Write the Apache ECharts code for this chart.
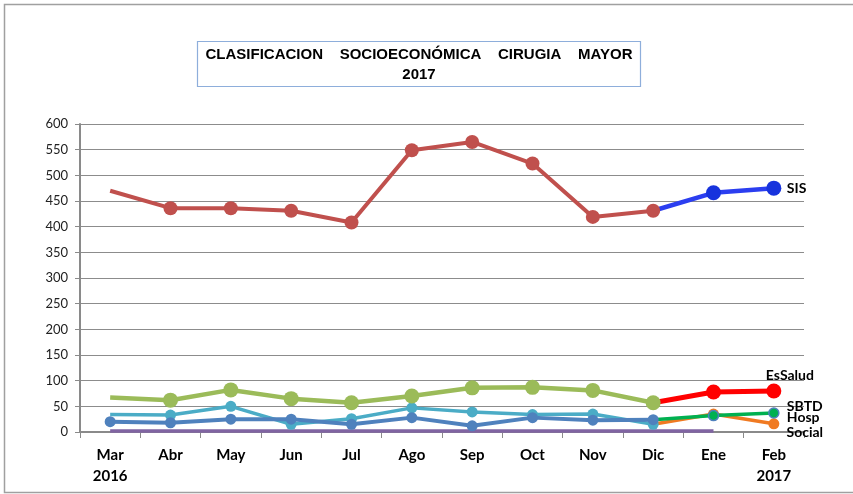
<!DOCTYPE html>
<html>
<head>
<meta charset="utf-8">
<script src="https://cdn.jsdelivr.net/npm/echarts@6/dist/echarts.min.js"></script>
<style>
  html, body { margin: 0; padding: 0; background: #ffffff; }
  #chart { width: 853px; height: 494px; }
</style>
</head>
<body>
<div id="chart"></div>
<script>
// Months on the category axis (second line marks the year)
const months = ['Mar\n2016', 'Abr', 'May', 'Jun', 'Jul', 'Ago', 'Sep', 'Oct', 'Nov', 'Dic', 'Ene', 'Feb\n2017'];
const yTicks = { min: 0, max: 600, step: 50 };

// 2016 tracks (Mar–Dic)
const sis2016      = [470, 436, 436, 431, 408, 549, 565, 523, 419, 431, null, null];
const essalud2016  = [67, 62, 82, 65, 57, 70, 86, 87, 81, 57, null, null];
const sbtd2016     = [34, 33, 50, 15, 26, 47, 39, 34, 35, 15, null, null];
const hosp2016     = [20, 18, 25, 25, 15, 28, 12, 28, 23, 24, null, null];
const social2016   = [2, 2, 2, 2, 2, 2, 2, 2, 2, 2, 2, null];

// 2017 tracks, starting from the December value
const sis2017      = [null, null, null, null, null, null, null, null, null, 431, 466, 475];
const essalud2017  = [null, null, null, null, null, null, null, null, null, 57, 78, 80];
const sbtd2017     = [null, null, null, null, null, null, null, null, null, 24, 32, 37];
const hosp2017     = [null, null, null, null, null, null, null, null, null, 15, 35, 16];

// Build point list, hiding the marker on selected indexes
function points(values, noMarkerAt) {
  return values.map((v, i) => (noMarkerAt.includes(i) ? { value: v, symbol: 'none' } : v));
}

function lineSeries(name, values, color, width, markerSize, noMarkerAt, extra) {
  return Object.assign({
    name: name,
    type: 'line',
    data: points(values, noMarkerAt),
    symbol: 'circle',
    symbolSize: markerSize,
    showSymbol: true,
    connectNulls: false,
    lineStyle: { color: color, width: width },
    itemStyle: { color: color },
    emphasis: { disabled: true }
  }, extra || {});
}

const labelFont = { fontFamily: 'Lato', fontWeight: 'bold', color: '#000' };

const chart = echarts.init(document.getElementById('chart'), null, { renderer: 'canvas' });

chart.setOption({
  animation: false,
  backgroundColor: '#ffffff',
  grid: { left: 80, right: 49, top: 124, bottom: 62 },
  xAxis: {
    type: 'category',
    data: months,
    boundaryGap: true,
    axisLine: { lineStyle: { color: '#8a8a8a', width: 2 } },
    axisTick: { show: true, length: 6, lineStyle: { color: '#8a8a8a', width: 1 } },
    axisLabel: {
      interval: 0,
      margin: 13,
      fontFamily: 'Lato',
      fontWeight: 'bold',
      fontSize: 15,
      lineHeight: 21,
      color: '#000'
    },
    splitLine: { show: false }
  },
  yAxis: {
    type: 'value',
    min: yTicks.min,
    max: yTicks.max,
    interval: yTicks.step,
    axisLine: { show: true, lineStyle: { color: '#8a8a8a', width: 2 } },
    axisTick: { show: true, length: 5, lineStyle: { color: '#8a8a8a' } },
    axisLabel: { margin: 12, fontFamily: 'Lato', fontSize: 13, color: '#222' },
    splitLine: { lineStyle: { color: '#8c8c8c', width: 1 } }
  },
  series: [
    lineSeries('Social', social2016, '#8064A2', 3.5, 0, [], {
      symbol: 'none',
      endLabel: { show: true, formatter: 'Social', distance: 13, offset: [60, 2], fontSize: 14, ...labelFont }
    }),
    lineSeries('SBTD 2016', sbtd2016, '#4BACC6', 3.5, 11, [0]),
    lineSeries('Hosp 2016', hosp2016, '#4F81BD', 4, 11, []),
    lineSeries('EsSalud 2016', essalud2016, '#9BBB59', 4.5, 15, [0]),
    lineSeries('SIS 2016', sis2016, '#C0504D', 4, 14, [0]),
    lineSeries('Hosp', hosp2017, '#F07A22', 3.5, 11, [9], {
      endLabel: { show: true, formatter: 'Hosp', distance: 13, offset: [0, -6], fontSize: 14, ...labelFont }
    }),
    lineSeries('SBTD', sbtd2017, '#00B050', 3.5, 10, [9], {
      itemStyle: { color: '#00B050', borderColor: '#4F81BD', borderWidth: 1.5 },
      endLabel: { show: true, formatter: 'SBTD', distance: 13, offset: [0, -7], fontSize: 14, ...labelFont }
    }),
    lineSeries('EsSalud', essalud2017, '#FF0000', 5, 15, [9], {
      endLabel: { show: true, formatter: 'EsSalud', distance: 13, offset: [-21, -15], fontSize: 14, ...labelFont }
    }),
    lineSeries('SIS', sis2017, '#2B3EF0', 4.5, 15, [9], {
      itemStyle: { color: '#1733dd' },
      endLabel: { show: true, formatter: 'SIS', distance: 13, offset: [0, 0], fontSize: 14, ...labelFont }
    })
  ],
  graphic: [
    {
      type: 'rect',
      silent: true,
      shape: { x: 4.5, y: 4.5, width: 852, height: 488 },
      style: { fill: 'none', stroke: '#a0a0a0', lineWidth: 1.5 }
    },
    {
      type: 'rect',
      silent: true,
      shape: { x: 197.5, y: 41.5, width: 443, height: 45 },
      style: { fill: '#ffffff', stroke: '#8eaedb', lineWidth: 1.2 }
    },
    {
      type: 'text',
      silent: true,
      x: 419,
      y: 55,
      style: {
        text: 'CLASIFICACION    SOCIOECONÓMICA    CIRUGIA    MAYOR',
        fontFamily: 'Liberation Sans',
        fontWeight: 'bold',
        fontSize: 15,
        fill: '#000',
        align: 'center',
        verticalAlign: 'middle'
      }
    },
    {
      type: 'text',
      silent: true,
      x: 419,
      y: 75,
      style: {
        text: '2017',
        fontFamily: 'Liberation Sans',
        fontWeight: 'bold',
        fontSize: 15,
        fill: '#000',
        align: 'center',
        verticalAlign: 'middle'
      }
    }
  ]
});
</script>
</body>
</html>
